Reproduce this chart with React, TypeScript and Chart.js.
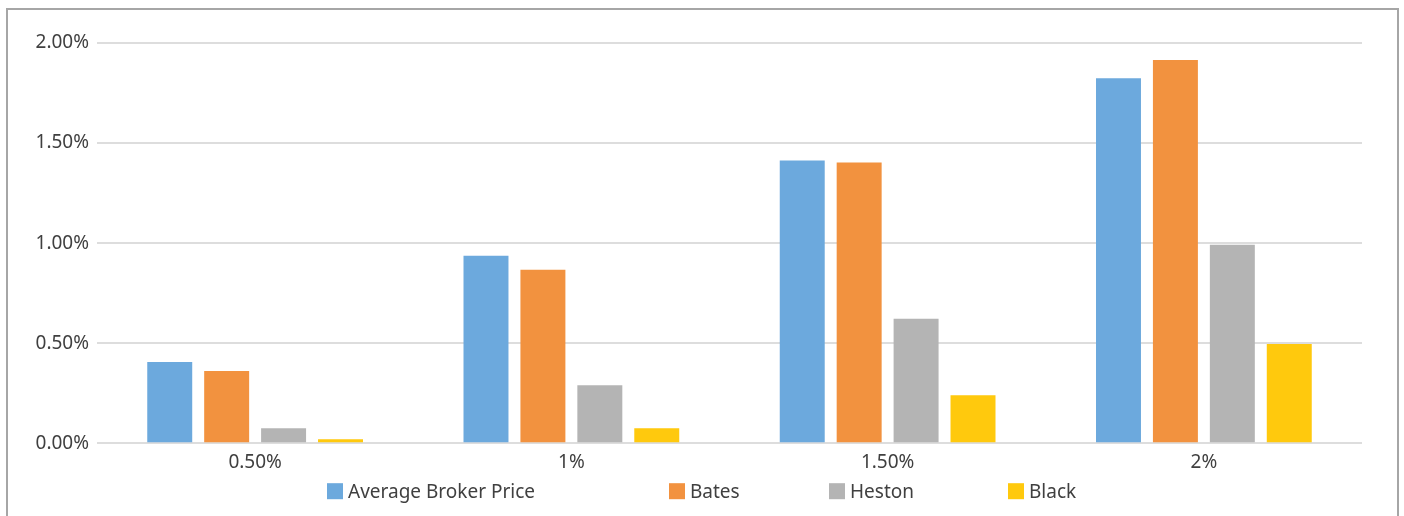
import React, { useEffect, useRef } from "react";
import { Chart, registerables } from "chart.js";

Chart.register(...registerables);

// Strike offsets shown along the x axis
const categories = ["0.50%", "1%", "1.50%", "2%"];

// Prices per model, in percent
const averageBrokerPrice = [0.406, 0.937, 1.413, 1.824];
const bates = [0.361, 0.867, 1.403, 1.915];
const heston = [0.075, 0.29, 0.622, 0.992];
const black = [0.02, 0.075, 0.24, 0.496];

const seriesNames = ["Average Broker Price", "Bates", "Heston", "Black"];
const seriesColors = ["#6CA9DD", "#F2923F", "#B4B4B4", "#FFC90D"];

const yTicks = [0, 0.5, 1, 1.5, 2];

const FONT = "'Noto Sans', sans-serif";
const FONT_SIZE = 19;
const TEXT = "#404040";

// Legend drawn below the axis, one entry per dataset, in fixed columns
const legendColumns = [319, 661, 821, 1000];
const legendOffsetBelowArea = 48;

const bottomLegend = {
  id: "bottomLegend",
  afterDraw(chart: any) {
    const { ctx, chartArea } = chart;
    const y = chartArea.bottom + legendOffsetBelowArea;
    ctx.save();
    ctx.font = `${FONT_SIZE}px ${FONT}`;
    ctx.textBaseline = "middle";
    ctx.textAlign = "left";
    chart.data.datasets.forEach((ds: any, i: number) => {
      const x = legendColumns[i];
      ctx.fillStyle = ds.backgroundColor;
      ctx.fillRect(x, y - 8, 16, 16);
      ctx.fillStyle = TEXT;
      ctx.fillText(ds.label, x + 21, y + 1);
    });
    ctx.restore();
  },
};

export default function App() {
  const canvasRef = useRef<HTMLCanvasElement | null>(null);

  useEffect(() => {
    if (!canvasRef.current) return;
    const values = [averageBrokerPrice, bates, heston, black];
    const chart = new Chart(canvasRef.current, {
      type: "bar",
      data: {
        labels: categories,
        datasets: values.map((v, i) => ({
          label: seriesNames[i],
          data: v,
          backgroundColor: seriesColors[i],
          borderWidth: 0,
          categoryPercentage: 0.72,
          barPercentage: 0.79,
        })),
      },
      options: {
        animation: false,
        responsive: true,
        maintainAspectRatio: false,
        layout: { padding: { left: 0, right: 35, top: 33, bottom: 44 } },
        plugins: {
          tooltip: { enabled: false },
          legend: { display: false },
        },
        scales: {
          x: {
            grid: { display: false, drawTicks: false },
            border: { display: false },
            ticks: { color: TEXT, font: { family: FONT, size: FONT_SIZE }, padding: 8 },
          },
          y: {
            min: 0,
            max: 2,
            afterFit: (scale: any) => {
              scale.width = 89;
            },
            afterBuildTicks: (scale: any) => {
              scale.ticks = yTicks.map((v) => ({ value: v }));
            },
            grid: { color: "#DDDDDD", lineWidth: 2, drawTicks: false },
            border: { display: false },
            ticks: {
              color: TEXT,
              font: { family: FONT, size: FONT_SIZE },
              padding: 8,
              callback: (v: any) => Number(v).toFixed(2) + "%",
            },
          },
        },
      },
      plugins: [bottomLegend],
    });
    return () => chart.destroy();
  }, []);

  return (
    <div
      style={{
        position: "absolute",
        left: 6,
        top: 8,
        width: 1393,
        height: 520,
        border: "2px solid #A6A6A6",
        boxSizing: "border-box",
        background: "#fff",
      }}
    >
      <canvas ref={canvasRef} />
    </div>
  );
}
